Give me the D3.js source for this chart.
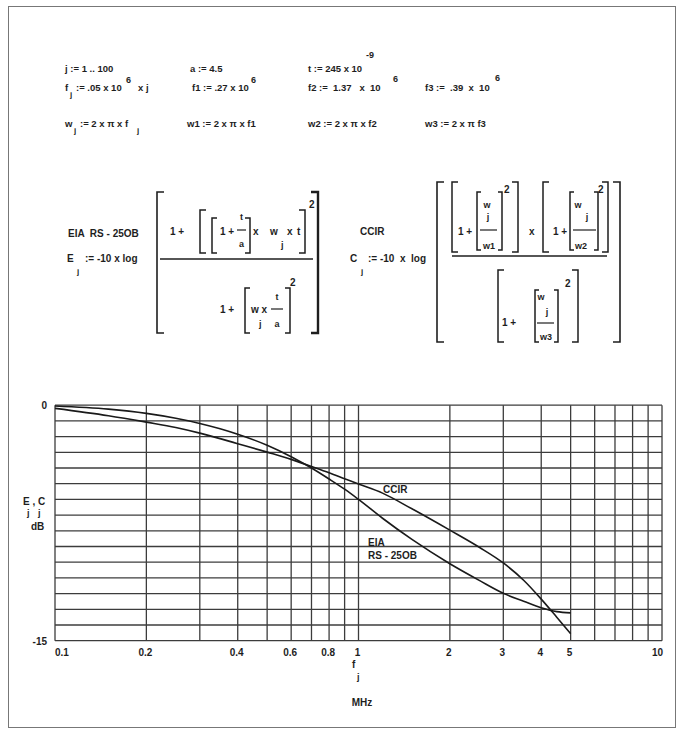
<!DOCTYPE html>
<html><head><meta charset="utf-8">
<script src="https://cdn.jsdelivr.net/npm/d3@7"></script>
<style>
html,body{margin:0;padding:0;background:#fff;}
svg text{font-family:"Liberation Sans",Arial,Helvetica,sans-serif;font-weight:bold;fill:#1e1e1e;white-space:pre;}
</style></head><body>
<svg id="fig" width="684" height="734"></svg>
<script>
// Sample frequencies f_j (MHz)
const freqMHz = [0.1, 0.15, 0.2, 0.25, 0.3, 0.35, 0.4, 0.5, 0.6, 0.7, 0.8, 0.9, 1.0, 1.2, 1.5, 2.0, 2.5, 3.0, 3.5, 4.0, 4.5, 5.0];
// EIA RS-250B weighting E_j (dB)
const eiaDb = [-0.05, -0.25, -0.52, -0.83, -1.16, -1.5, -1.85, -2.55, -3.28, -4.0, -4.7, -5.35, -6.0, -7.2, -8.55, -10.1, -11.16, -11.98, -12.48, -12.9, -13.15, -13.23];
// CCIR weighting C_j (dB)
const ccirDb = [-0.2, -0.67, -1.08, -1.42, -1.78, -2.13, -2.45, -2.99, -3.45, -3.9, -4.3, -4.68, -5.02, -5.6, -6.6, -7.96, -9.05, -10.05, -11.15, -12.35, -13.5, -14.55];

// Log-paper grid and labels
const xGridMHz = [0.1, 0.2, 0.3, 0.4, 0.5, 0.6, 0.7, 0.8, 0.9, 1, 2, 3, 4, 5, 6, 7, 8, 9, 10];
const xTickLabels = [0.1, 0.2, 0.4, 0.6, 0.8, 1, 2, 3, 4, 5, 10];
const yGridDb = [0, -1, -2, -3, -4, -5, -6, -7, -8, -9, -10, -11, -12, -13, -14, -15];
const yTickLabels = [0, -15];

const svg = d3.select("#fig");
const ink = "#1e1e1e";

// outer frame of the figure
svg.append("rect").attr("x", 8.5).attr("y", 6.5).attr("width", 667).attr("height", 721)
  .attr("fill", "none").attr("stroke", "#777").attr("stroke-width", 1);

function txt(x, y, s, size = 10, anchor = "start") {
  return svg.append("text").attr("x", x).attr("y", y).attr("font-size", size)
    .attr("text-anchor", anchor).attr("xml:space", "preserve").text(s);
}
function lbr(x, y0, y1, w = 5, sw = 1.5) {
  svg.append("path").attr("d", `M${x + w},${y0}H${x}V${y1}H${x + w}`)
    .attr("fill", "none").attr("stroke", ink).attr("stroke-width", sw);
}
function rbr(x, y0, y1, w = 5, sw = 1.5) {
  svg.append("path").attr("d", `M${x - w},${y0}H${x}V${y1}H${x - w}`)
    .attr("fill", "none").attr("stroke", ink).attr("stroke-width", sw);
}
function bar(x0, x1, y, sw = 1.2) {
  svg.append("line").attr("x1", x0).attr("x2", x1).attr("y1", y).attr("y2", y)
    .attr("stroke", ink).attr("stroke-width", sw);
}

// ---- definitions block ----
const fs = 9.5;
txt(65, 72, "j := 1 .. 100", fs);
txt(190, 72, "a := 4.5", fs);
txt(308, 72, "t := 245 x 10", fs);
txt(366, 58, "-9", 9);

txt(65, 91, "f", fs);
txt(70, 97, "j", 8);
txt(76, 91, ":= .05 x 10", fs);
txt(126, 83, "6", 9);
txt(138, 91, "x j", fs);
txt(192, 91, "f1 := .27 x 10", fs);
txt(251, 83, "6", 9);
txt(308, 91, "f2 :=  1.37   x  10", fs);
txt(393, 82, "6", 9);
txt(425, 91, "f3 :=  .39  x  10", fs);
txt(495, 81, "6", 9);

txt(65, 127, "w", fs);
txt(74, 133, "j", 8);
txt(80, 127, ":= 2 x π x f", fs);
txt(137, 133, "j", 8);
txt(187, 127, "w1 := 2 x π x f1", fs);
txt(308, 127, "w2 := 2 x π x f2", fs);
txt(425, 127, "w3 := 2 x π f3", fs);

// ---- EIA RS-250B expression ----
txt(68, 237, "EIA  RS - 25OB");
txt(67, 262, "E");
txt(77, 274, "j", 8);
txt(85, 262, ":= -10 x log");
lbr(157, 192, 333, 7, 1.6);
rbr(318, 192, 333, 7, 2.4);
txt(170, 235, "1 +");
lbr(200, 210, 253, 6);
lbr(212, 218, 253, 5);
txt(220, 235, "1 +");
txt(241.5, 220, "t", 9, "middle");
bar(237, 246, 230);
txt(241.5, 247, "a", 9, "middle");
rbr(250, 218, 253, 5);
txt(253, 235, "x");
txt(270, 235, "w");
txt(281, 248, "j", 9);
txt(287, 235, "x");
txt(297, 235, "t");
rbr(305, 210, 253, 6);
txt(309, 208, "2", 10);
bar(160, 313, 259, 1.3);
txt(220, 313, "1 +");
lbr(245, 288, 333, 5);
txt(251, 313, "w x");
txt(259, 327, "j", 9);
txt(277, 300, "t", 9, "middle");
bar(271, 283, 309);
txt(277, 327, "a", 9, "middle");
rbr(290, 288, 333, 5);
txt(290, 286, "2", 10);

// ---- CCIR expression ----
txt(360, 235, "CCIR");
txt(350, 262, "C");
txt(361, 274, "j", 8);
txt(368, 262, ":= -10  x  log");
lbr(437, 182, 342, 7, 1.6);
rbr(620, 182, 342, 7, 1.6);

lbr(452, 182, 252, 6);
txt(458, 235, "1 +");
lbr(477, 192, 250, 4);
txt(487, 208, "w", 9, "middle");
txt(488, 220, "j", 9, "middle");
bar(480, 497, 230);
txt(489, 249, "w1", 9, "middle");
rbr(502, 192, 250, 4);
rbr(518, 182, 252, 6);
txt(504, 193, "2", 10);

txt(529, 235, "x");

lbr(543, 182, 252, 6);
txt(553, 235, "1 +");
lbr(570, 192, 250, 4);
txt(578, 208, "w", 9, "middle");
txt(587, 220, "j", 9, "middle");
bar(573, 596, 230);
txt(581, 249, "w2", 9, "middle");
rbr(598, 192, 250, 4);
rbr(608, 182, 252, 6);
txt(598, 193, "2", 10);

bar(452, 607, 256, 1.3);

lbr(498, 270, 342, 6);
txt(502, 326, "1 +");
lbr(535, 290, 342, 4);
txt(541, 300, "w", 9, "middle");
txt(547, 315, "j", 9, "middle");
bar(537, 554, 323);
txt(546, 340, "w3", 9, "middle");
rbr(558, 290, 342, 4);
rbr(578, 270, 342, 6);
txt(565, 287, "2", 10);

// ---- response plot ----
const x = d3.scaleLog().domain([0.1, 10]).range([55, 662]);
const y = d3.scaleLinear().domain([0, -15]).range([405.2, 640.7]);
const grid = svg.append("g").attr("stroke", "#3c3c3c").attr("stroke-width", 1.3);

grid.selectAll("line.v").data(xGridMHz).join("line").attr("class", "v")
  .attr("x1", d => x(d)).attr("x2", d => x(d))
  .attr("y1", y(0)).attr("y2", y(-15));
grid.selectAll("line.h").data(yGridDb).join("line").attr("class", "h")
  .attr("x1", x(0.1)).attr("x2", x(10))
  .attr("y1", d => y(d)).attr("y2", d => y(d));

const line = d3.line().x((d, i) => x(freqMHz[i])).y(d => y(d)).curve(d3.curveMonotoneX);
svg.append("path").datum(eiaDb).attr("d", line)
  .attr("fill", "none").attr("stroke", "#1a1a1a").attr("stroke-width", 1.6);
svg.append("path").datum(ccirDb).attr("d", line)
  .attr("fill", "none").attr("stroke", "#1a1a1a").attr("stroke-width", 1.6);

// axis tick labels
svg.selectAll("text.xt").data(xTickLabels).join("text").attr("class", "xt")
  .attr("x", d => d === 0.1 ? x(d) : d === 10 ? x(d) + 1 : x(d) - 1)
  .attr("y", 656).attr("font-size", 10)
  .attr("text-anchor", d => d === 0.1 ? "start" : d === 10 ? "end" : "middle")
  .text(d => String(d));
svg.selectAll("text.yt").data(yTickLabels).join("text").attr("class", "yt")
  .attr("x", 47).attr("y", d => y(d) + 4).attr("font-size", 10)
  .attr("text-anchor", "end").text(d => String(d));

// axis titles
txt(352, 668, "f", 10);
txt(357, 680, "j", 9);
txt(362, 706, "MHz", 10, "middle");
txt(23, 505, "E , C", 10);
txt(27, 516, "j", 9);
txt(38, 516, "j", 9);
txt(31, 530, "dB", 10);

// curve captions
txt(383, 493, "CCIR", 10);
txt(368, 546, "EIA", 10);
txt(368, 559, "RS - 25OB", 10);
</script>
</body></html>
